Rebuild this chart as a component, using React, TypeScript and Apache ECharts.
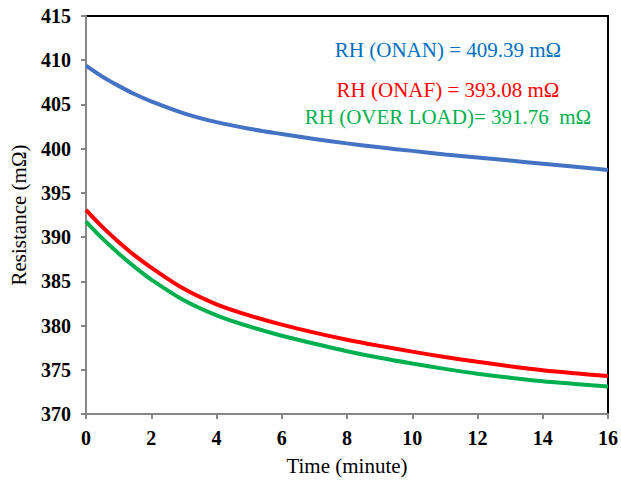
import React, { useEffect, useRef } from "react";
import * as echarts from "echarts";

const times = [0, 0.5, 1, 1.5, 2, 3, 4, 5, 6, 7, 8, 9, 10, 11, 12, 13, 14, 15, 16];
const onan = [409.39, 408.15, 407.1, 406.15, 405.35, 404.0, 403.0, 402.25, 401.65, 401.1, 400.6, 400.15, 399.75, 399.35, 399.0, 398.65, 398.3, 397.95, 397.6];
const onaf = [393.08, 391.15, 389.45, 387.9, 386.55, 384.15, 382.4, 381.15, 380.1, 379.2, 378.4, 377.7, 377.05, 376.45, 375.9, 375.4, 374.95, 374.6, 374.3];
const overload = [391.76, 389.85, 388.15, 386.6, 385.2, 382.85, 381.15, 379.9, 378.85, 377.95, 377.1, 376.35, 375.7, 375.1, 374.55, 374.1, 373.7, 373.4, 373.1];
const labels = ["RH (ONAN) = 409.39 mΩ", "RH (ONAF) = 393.08 mΩ", "RH (OVER LOAD)= 391.76  mΩ"];
const colors = ["#4472C4", "#FF0000", "#00B050"];
const textColors = ["#0070C0", "#FF0000", "#00B050"];

const font = "Liberation Serif";

export default function App() {
  const ref = useRef<HTMLDivElement>(null);
  useEffect(() => {
    if (!ref.current) return;
    const chart = echarts.init(ref.current, null, { renderer: "svg" });
    const mk = (arr: number[]) => times.map((t, i) => [t, arr[i]]);
    const axisLine = { show: true, lineStyle: { color: "#868686", width: 2 } };
    chart.setOption({
      animation: false,
      backgroundColor: "#fff",
      grid: {
        left: 86,
        right: 13,
        top: 16,
        bottom: 67,
        show: true,
        borderColor: "#000",
        borderWidth: 2,
      },
      xAxis: {
        type: "value",
        min: 0,
        max: 16,
        interval: 2,
        name: "Time (minute)",
        nameLocation: "middle",
        nameGap: 41,
        nameTextStyle: { fontFamily: font, fontSize: 21, color: "#000" },
        axisLine,
        axisTick: { show: true, length: 5, lineStyle: { color: "#868686", width: 2 } },
        axisLabel: { fontFamily: font, fontSize: 20, fontWeight: "bold", color: "#000", margin: 14 },
        splitLine: { show: false },
      },
      yAxis: {
        type: "value",
        min: 370,
        max: 415,
        interval: 5,
        name: "Resistance (mΩ)",
        nameLocation: "middle",
        nameGap: 57,
        nameTextStyle: { fontFamily: font, fontSize: 21, color: "#000" },
        axisLine,
        axisTick: { show: true, length: 5, lineStyle: { color: "#868686", width: 2 } },
        axisLabel: { fontFamily: font, fontSize: 20, fontWeight: "bold", color: "#000", margin: 15 },
        splitLine: { show: false },
      },
      series: [onan, onaf, overload].map((d, i) => ({
        type: "line",
        data: mk(d),
        smooth: 0.35,
        showSymbol: false,
        lineStyle: { color: colors[i], width: 4 },
        z: 3 - i,
      })),
      graphic: labels.map((txt, i) => ({
        type: "text",
        x: 448,
        y: [50, 90, 117][i],
        style: {
          text: txt,
          fill: textColors[i],
          fontFamily: font,
          fontSize: 21,
          textAlign: "center",
          textVerticalAlign: "middle",
        },
      })),
    });
    return () => chart.dispose();
  }, []);
  return (
    <div
      ref={ref}
      style={{ position: "fixed", left: 0, top: 0, width: 621, height: 481 }}
    />
  );
}
